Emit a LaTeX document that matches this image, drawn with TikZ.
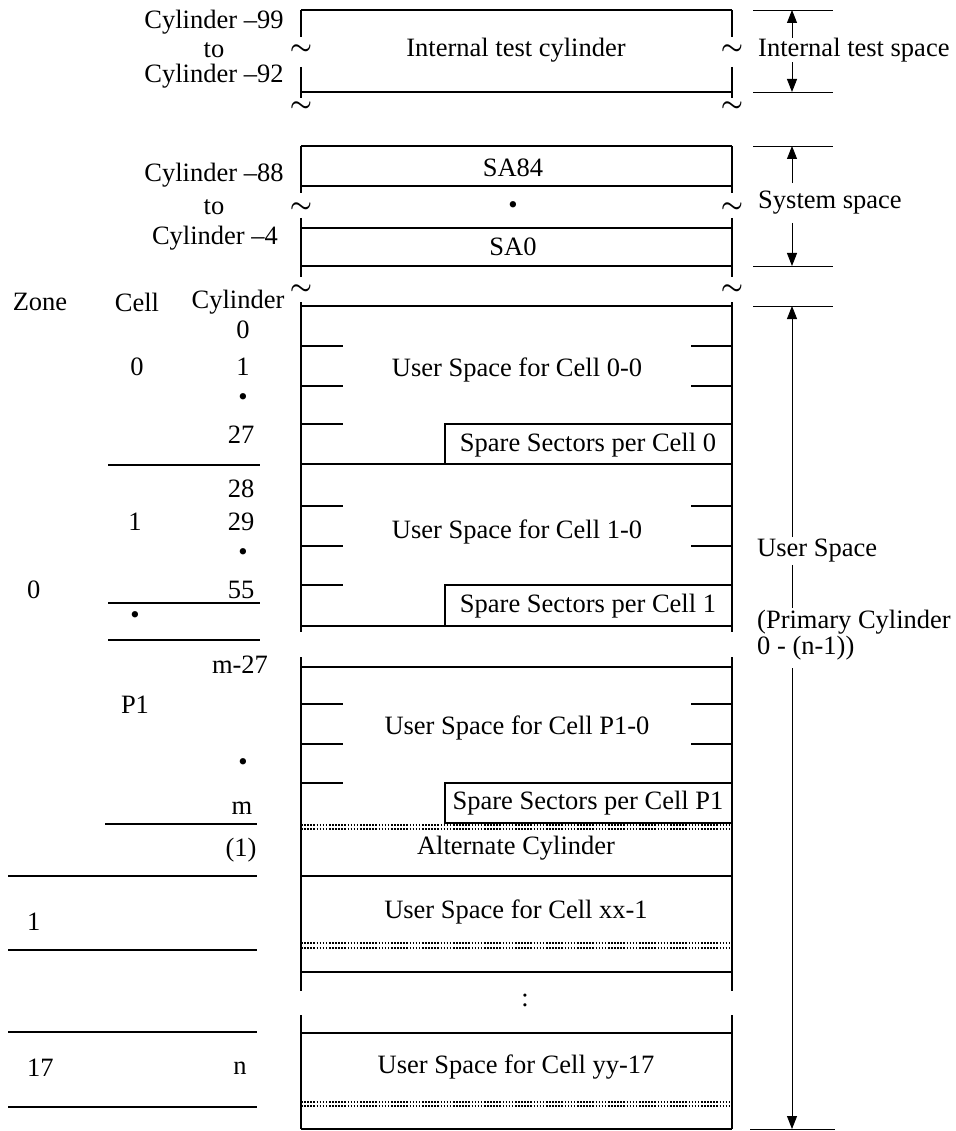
\documentclass[tikz,border=0pt]{standalone}
\usepackage{fontspec}
\setmainfont{Liberation Serif}
\usepackage{tikz}
\usetikzlibrary{arrows.meta}
\tikzstyle{lbl} = [font=\fontsize{26.5}{30}\selectfont, inner sep=0pt]
\tikzstyle{wave} = [font=\fontsize{28}{30}\selectfont\boldmath, inner sep=0pt]
\tikzstyle{wall} = [line width=1.7pt]
\tikzstyle{rule} = [line width=1.1pt]
\tikzstyle{dimline} = [line width=0.9pt]
\tikzstyle{dimarrow} = [line width=0.9pt, -{Triangle[length=13pt,width=10pt]}]
\tikzstyle{dotrow} = [line width=1.6pt, dash pattern=on 1.6pt off 1.5pt]

\begin{document}
\begin{tikzpicture}[x=1pt, y=-1pt]
        \useasboundingbox (0,0) rectangle (955,1131);
        % internal test cylinders
        \draw [wall] (301,10) -- (732,10);
        \draw [wall] (301,92) -- (732,92);
        \draw [wall] (301,10) -- (301,37);
        \draw [wall] (301,67) -- (301,98);
        \draw [wall] (732,10) -- (732,37);
        \draw [wall] (732,67) -- (732,98);
        \node (itc) [lbl] at (516,50) {Internal test cylinder};
        \node (cyl99) [lbl] at (214,22) {Cylinder –99};
        \node (to1) [lbl] at (214,50) {to};
        \node (cyl92) [lbl] at (214,76) {Cylinder –92};
        \node (tl1) [wave] at (301,50) {$\sim$};
        \node (tr1) [wave] at (732,50) {$\sim$};
        \node (tl2) [wave] at (301,107) {$\sim$};
        \node (tr2) [wave] at (732,107) {$\sim$};
        % system space
        \draw [wall] (301,146) -- (732,146);
        \draw [wall] (301,186) -- (732,186);
        \draw [wall] (301,228) -- (732,228);
        \draw [wall] (301,266) -- (732,266);
        \draw [wall] (301,146) -- (301,193);
        \draw [wall] (301,218) -- (301,277);
        \draw [wall] (732,146) -- (732,193);
        \draw [wall] (732,218) -- (732,277);
        \node (sa84) [lbl] at (513,168) {SA84};
        \node (sadot) [lbl] at (513,208) {\textbullet};
        \node (sa0) [lbl] at (513,247) {SA0};
        \node (cyl88) [lbl] at (214,175) {Cylinder –88};
        \node (to2) [lbl] at (214,207) {to};
        \node (cyl4) [lbl] at (215,238) {Cylinder –4};
        \node (tl3) [wave] at (301,208) {$\sim$};
        \node (tr3) [wave] at (732,208) {$\sim$};
        \node (tl4) [wave] at (301,290) {$\sim$};
        \node (tr4) [wave] at (732,290) {$\sim$};
        % user space
        \draw [wall] (301,306) -- (732,306);
        \draw [wall] (301,302) -- (301,632);
        \draw [wall] (301,657) -- (301,991);
        \draw [wall] (301,1015) -- (301,1129);
        \draw [wall] (732,302) -- (732,632);
        \draw [wall] (732,657) -- (732,991);
        \draw [wall] (732,1015) -- (732,1129);
        % cell 0
        \draw [wall] (301,346) -- (343,346);
        \draw [wall] (301,386) -- (343,386);
        \draw [wall] (301,424) -- (343,424);
        \draw [wall] (691,346) -- (732,346);
        \draw [wall] (691,386) -- (732,386);
        \draw [wall] (445,424) rectangle (732,464);
        \draw [wall] (301,464) -- (445,464);
        \node (us0) [lbl] at (517,370) {User Space for Cell 0-0};
        \node (ss0) [lbl] at (588,445) {Spare Sectors per Cell 0};
        % cell 1
        \draw [wall] (301,506) -- (343,506);
        \draw [wall] (301,546) -- (343,546);
        \draw [wall] (301,585) -- (343,585);
        \draw [wall] (691,506) -- (732,506);
        \draw [wall] (691,546) -- (732,546);
        \draw [wall] (445,585) rectangle (732,626);
        \draw [wall] (301,626) -- (445,626);
        \node (us1) [lbl] at (517,532) {User Space for Cell 1-0};
        \node (ss1) [lbl] at (588,606) {Spare Sectors per Cell 1};
        % cell P1
        \draw [wall] (301,667) -- (732,667);
        \draw [wall] (301,704) -- (343,704);
        \draw [wall] (301,744) -- (343,744);
        \draw [wall] (301,783) -- (343,783);
        \draw [wall] (691,704) -- (732,704);
        \draw [wall] (691,744) -- (732,744);
        \draw [wall] (445,783) rectangle (732,823);
        \node (usp) [lbl] at (517,728) {User Space for Cell P1-0};
        \node (ssp) [lbl] at (588,803) {Spare Sectors per Cell P1};
        \draw [dotrow] (301,825) -- (732,825);
        \draw [dotrow] (301,829) -- (732,829);
        % alternate cylinder and zones
        \node (alt) [lbl] at (516,848) {Alternate Cylinder};
        \draw [wall] (301,876) -- (732,876);
        \node (usxx) [lbl] at (516,912) {User Space for Cell xx-1};
        \draw [dotrow] (301,943) -- (732,943);
        \draw [dotrow] (301,948) -- (732,948);
        \draw [wall] (301,972) -- (732,972);
        \node (gap) [lbl] at (525,1000) {:};
        \draw [wall] (301,1033) -- (732,1033);
        \node (usyy) [lbl] at (516,1067) {User Space for Cell yy-17};
        \draw [dotrow] (301,1102) -- (732,1102);
        \draw [dotrow] (301,1106) -- (732,1106);
        \draw [wall] (301,1129) -- (732,1129);
        % left table
        \node (zone) [lbl] at (40,302) {Zone};
        \node (cell) [lbl] at (137,302) {Cell};
        \node (cyl) [lbl] at (238,302) {Cylinder};
        \node (c0) [lbl] at (243,330) {0};
        \node (k0) [lbl] at (137,367) {0};
        \node (c1) [lbl] at (243,367) {1};
        \node (cd0) [lbl] at (243,400) {\textbullet};
        \node (c27) [lbl] at (241,435) {27};
        \draw [rule] (108,465) -- (260,465);
        \node (c28) [lbl] at (241,489) {28};
        \node (k1) [lbl] at (135,522) {1};
        \node (c29) [lbl] at (241,522) {29};
        \node (cd1) [lbl] at (243,555) {\textbullet};
        \node (z0) [lbl, anchor=west] at (27,590) {0};
        \node (c55) [lbl] at (241,590) {55};
        \draw [rule] (108,603) -- (260,603);
        \node (kd) [lbl] at (135,618) {\textbullet};
        \draw [rule] (108,640) -- (260,640);
        \node (cm27) [lbl] at (240,665) {m-27};
        \node (kp1) [lbl] at (135,705) {P1};
        \node (cdp) [lbl] at (243,765) {\textbullet};
        \node (cm) [lbl] at (242,808) {m};
        \draw [rule] (105,824) -- (257,824);
        \node (calt) [lbl] at (241,850) {(1)};
        \draw [rule] (8,876) -- (257,876);
        \node (z1) [lbl, anchor=west] at (27,922) {1};
        \draw [rule] (8,950) -- (257,950);
        \draw [rule] (8,1032) -- (257,1032);
        \node (z17) [lbl, anchor=west] at (27,1068) {17};
        \node (cn) [lbl] at (240,1068) {n};
        \draw [rule] (8,1107) -- (257,1107);
        % dimensions
        \coordinate (its-top) at (792,10);
        \coordinate (its-bot) at (792,92);
        \coordinate (ss-top) at (792,146);
        \coordinate (ss-bot) at (792,266);
        \coordinate (us-top) at (792,306);
        \coordinate (us-bot) at (792,1129);
        \draw [dimline] (753,10) -- (833,10);
        \draw [dimline] (753,92) -- (833,92);
        \draw [dimline] (753,146) -- (833,146);
        \draw [dimline] (753,266) -- (833,266);
        \draw [dimline] (753,306) -- (833,306);
        \draw [dimline] (750,1129) -- (835,1129);
        \node (its) [lbl, anchor=west] at (758,50) {Internal test space};
        \draw [dimarrow] (its.north -| its-top) -- (its-top);
        \draw [dimarrow] (its.south -| its-bot) -- (its-bot);
        \node (ss) [lbl, anchor=west, inner ysep=8pt] at (758,203) {System space};
        \draw [dimarrow] (ss.north -| ss-top) -- (ss-top);
        \draw [dimarrow] (ss.south -| ss-bot) -- (ss-bot);
        \node (us) [lbl, anchor=west, inner ysep=2pt] at (757,551) {User Space};
        \node (pc) [lbl, anchor=west, inner ysep=2pt] at (757,622) {(Primary Cylinder};
        \node (pn) [lbl, anchor=west, inner ysep=8pt] at (757,648) {0 - (n-1))};
        \draw [dimarrow] (us.north -| us-top) -- (us-top);
        \draw [dimline] (us.south -| us-top) -- (pc.north -| us-top);
        \draw [dimarrow] (pn.south -| us-bot) -- (us-bot);
\end{tikzpicture}
\end{document}
